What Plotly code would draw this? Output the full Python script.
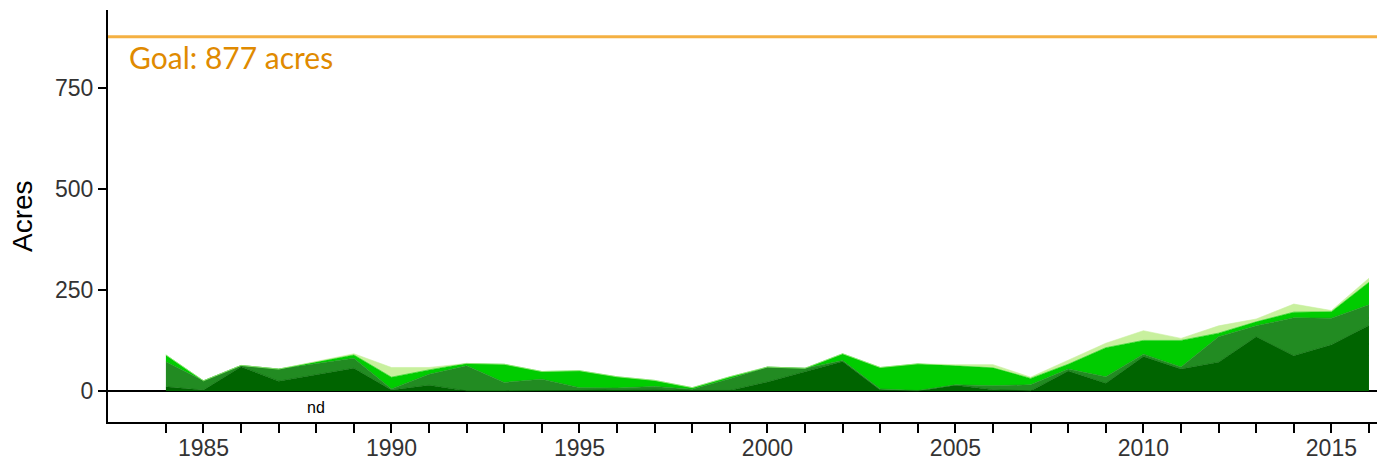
import plotly.graph_objects as go

# Years with data (1988: no data, "nd")
years = [1984, 1985, 1986, 1987, 1989, 1990, 1991, 1992, 1993, 1994, 1995,
         1996, 1997, 1998, 1999, 2000, 2001, 2002, 2003, 2004, 2005, 2006,
         2007, 2008, 2009, 2010, 2011, 2012, 2013, 2014, 2015, 2016]

dark_green = [10, 2, 60, 24, 56, 2, 14, 0, 0, 0, 1,
              3, 4, 1, 1, 22, 48, 73, 2, 0, 14, 3,
              0, 49, 19, 85, 54, 71, 134, 87, 114, 162]
forest_green = [62, 23, 3, 30, 25, 3, 27, 62, 21, 29, 7,
                4, 7, 3, 29, 37, 8, 2, 3, 1, 1, 10,
                15, 5, 16, 6, 5, 63, 27, 94, 66, 51]
bright_green = [17, 0, 0, 0, 8, 29, 11, 6, 45, 19, 42,
                28, 15, 4, 5, 0, 0, 17, 53, 66, 47, 44,
                16, 12, 72, 34, 66, 9, 10, 14, 16, 56]
light_green = [0, 0, 0, 0, 3, 24, 6, 0, 0, 0, 0,
               0, 0, 0, 0, 0, 0, 0, 0, 0, 3, 8,
               3, 11, 11, 24, 5, 18, 7, 20, 3, 10]

goal = 877
tick_years = list(range(1984, 2017))
tick_text = [str(y) if y % 5 == 0 else "" for y in tick_years]
y_ticks = [0, 250, 500, 750]

series = [
    ("Series 1", dark_green, "#006400"),
    ("Series 2", forest_green, "#228B22"),
    ("Series 3", bright_green, "#00CC00"),
    ("Series 4", light_green, "#C8F09E"),
]

fig = go.Figure()
for name, vals, col in series:
    fig.add_trace(go.Scatter(
        x=years, y=vals, name=name, mode="lines",
        stackgroup="one", line=dict(width=0.6, color=col),
        fillcolor=col, hoverinfo="x+y",
    ))

fig.add_shape(type="line", xref="paper", x0=0, x1=1, yref="y", y0=goal, y1=goal,
              line=dict(color="#F4B042", width=3))

fig.add_annotation(x=1982.97, y=goal - 50, xref="x", yref="y", text="Goal: 877 acres",
                   showarrow=False, xanchor="left", yanchor="middle",
                   font=dict(family="Lato", size=30, color="#E08A00"))
fig.add_annotation(x=1988, y=-42, xref="x", yref="y", text="nd", showarrow=False,
                   font=dict(family="Liberation Sans", size=16, color="black"))
fig.add_annotation(x=0, y=0.5, xref="paper", yref="paper", xshift=-86, text="Acres",
                   textangle=-90, showarrow=False, xanchor="center", yanchor="middle",
                   font=dict(family="Liberation Sans", size=28, color="black"))

fig.update_layout(
    width=1377, height=454,
    margin=dict(l=100, r=7, t=2, b=40),
    plot_bgcolor="white", paper_bgcolor="white",
    showlegend=False,
    font=dict(family="Liberation Sans", color="#333333"),
)
fig.update_xaxes(
    range=[1982.46, 2016.24], tickvals=tick_years, ticktext=tick_text,
    ticks="outside", ticklen=9, tickwidth=2, tickcolor="black",
    showline=True, linecolor="black", linewidth=2,
    showgrid=False, zeroline=False, automargin=False,
    ticklabelstandoff=-5,
    tickfont=dict(size=23, color="#333333"),
)
fig.update_yaxes(
    range=[-77, 943], tickvals=y_ticks,
    ticks="outside", ticklen=8, tickwidth=2, tickcolor="black",
    showline=True, linecolor="black", linewidth=2,
    showgrid=False, zeroline=True, zerolinecolor="black", zerolinewidth=2,
    automargin=False,
    tickfont=dict(size=23, color="#333333"),
)

fig.write_html("out.html")
